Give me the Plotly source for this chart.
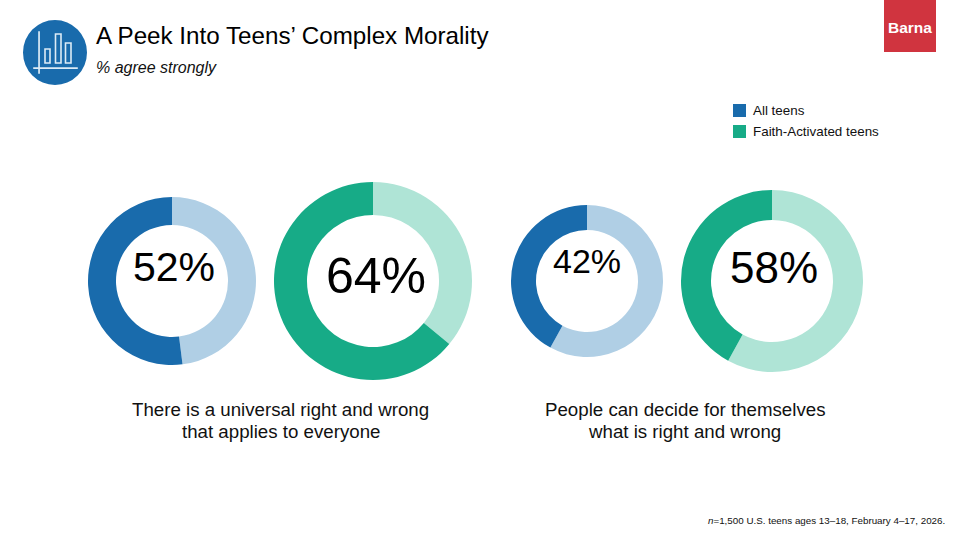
import plotly.graph_objects as go

W, H = 960, 540
FONT = "Liberation Sans"
DARK_BLUE, LIGHT_BLUE = "#196BAC", "#B0CFE5"
DARK_GREEN, LIGHT_GREEN = "#17AB87", "#AFE4D6"

title = "A Peek Into Teens’ Complex Morality"
subtitle = "% agree strongly"
series_names = ["All teens", "Faith-Activated teens"]
value_labels = [52, 64, 42, 58]
# Share of each ring in the dark colour, as drawn (the fourth ring shows 42 dark / 58 light)
ring_dark = [52, 64, 42, 42]
statement_lines = [["There is a universal right and wrong", "that applies to everyone"],
                   ["People can decide for themselves", "what is right and wrong"]]
source = "<i>n</i>=1,500 U.S. teens ages 13–18, February 4–17, 2026."

# layout: cx, cy, outer r, inner r, colours, label x, label y, label size
donuts = [
    (172, 281, 84, 56, DARK_BLUE, LIGHT_BLUE, 174, 267, 41),
    (373, 281, 99, 66, DARK_GREEN, LIGHT_GREEN, 376, 276, 50),
    (587, 281, 76, 51, DARK_BLUE, LIGHT_BLUE, 587, 261, 34),
    (772, 281, 91, 61, DARK_GREEN, LIGHT_GREEN, 774, 268, 44),
]

fig = go.Figure()
ann = []
def text(x, y, t, size, anchor="left", color="#111111", **kw):
    ann.append(dict(x=x / W, y=1 - y / H, xref="paper", yref="paper", text=t, showarrow=False,
                    xanchor=anchor, yanchor="middle", align=anchor,
                    font=dict(family=FONT, size=size, color=color), **kw))

for lab, v, (cx, cy, r, ri, c1, c2, lx, ly, ls) in zip(value_labels, ring_dark, donuts):
    fig.add_trace(go.Pie(
        values=[100 - v, v], labels=["Other", "Agree strongly"], sort=False, direction="clockwise",
        rotation=0, hole=ri / r, textinfo="none", hoverinfo="skip", showlegend=False,
        marker=dict(colors=[c2, c1], line=dict(width=0)),
        domain=dict(x=[(cx - r) / W, (cx + r) / W], y=[1 - (cy + r) / H, 1 - (cy - r) / H]),
    ))
    text(lx, ly, f"{lab}%", ls, "center", "#000000")

text(94, 36, title, 24.2, color="#000000")
text(94, 67, f"<i>{subtitle}</i>", 16)
for cx, lines in zip([280.5, 684.8], statement_lines):
    text(cx, 409.5, lines[0], 18.7, "center")
    text(cx, 431.5, lines[1], 18.7, "center")
text(947, 520, source, 9.8, "right")
text(751, 111, series_names[0], 13.4)
text(751, 131.5, series_names[1], 13.4)
text(909.5, 27, "<b>Barna</b>", 15.5, "center", "#FFFFFF")

def rect(x0, y0, x1, y1, fill=None, line=None, w=1.6):
    return dict(type="rect", xref="paper", yref="paper", x0=x0 / W, x1=x1 / W, y0=1 - y0 / H, y1=1 - y1 / H,
                fillcolor=fill or "rgba(0,0,0,0)", line=dict(color=line, width=w if line else 0))

shapes = [
    rect(733, 104, 746, 117, DARK_BLUE),
    rect(733, 125, 746, 138, DARK_GREEN),
    rect(884, 0, 936, 52, "#D0343F"),
    dict(type="circle", xref="paper", yref="paper", x0=23 / W, x1=87 / W, y0=1 - 85 / H, y1=1 - 20 / H,
         fillcolor="#196BAC", line=dict(width=0)),
    rect(45, 49, 50, 63, None, "#DCEBF6"),
    rect(55.5, 34, 61, 63, None, "#DCEBF6"),
    rect(65.5, 43, 71, 63, None, "#DCEBF6"),
    rect(39, 32, 39.1, 73, None, "#DCEBF6"),
    rect(34, 68, 77, 68.1, None, "#DCEBF6"),
]
fig.update_layout(width=W, height=H, margin=dict(l=0, r=0, t=0, b=0), paper_bgcolor="white",
                  plot_bgcolor="white", annotations=ann, shapes=shapes, showlegend=False)
fig.write_html("out.html", config=dict(displayModeBar=False),
               post_script="document.body.style.margin='0';document.documentElement.style.overflow='hidden';")
